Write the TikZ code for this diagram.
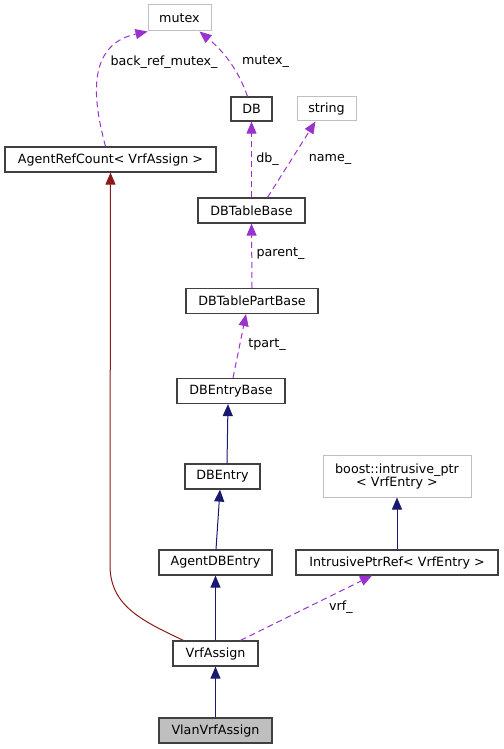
\documentclass[tikz,border=0pt]{standalone}
\usepackage{fontspec}
\setmainfont{DejaVu Sans}
\usetikzlibrary{arrows.meta}
\definecolor{navy}{HTML}{191970}
\definecolor{dred}{HTML}{8B1A1A}
\definecolor{orch}{HTML}{9A32CD}
\definecolor{lgray}{HTML}{BFBFBF}
\definecolor{bord}{HTML}{404040}
\begin{document}
\begin{tikzpicture}[x=1pt,y=-1pt,
  every node/.style={font=\fontsize{12.7}{14}\selectfont, inner sep=0pt, align=center},
  cls/.style={draw=bord, line width=1.2pt, fill=white, rectangle},
  ext/.style={draw=lgray, line width=1pt, fill=white, rectangle},
  cur/.style={draw=bord, line width=1.2pt, fill=lgray, rectangle},
  tip/.style={-{Triangle[length=12pt,width=10pt]}},
  inh/.style={draw=navy, line width=1pt, tip},
  priv/.style={draw=dred, line width=1pt, tip},
  use/.style={draw=orch, line width=1pt, dash pattern=on 6pt off 4pt, tip},
  lbl/.style={fill=none}]
\useasboundingbox (0,0) rectangle (503,749);
% nodes
\node[ext, minimum width=63pt, minimum height=26pt] (mutex) at (179.5,18) {mutex};
\node[cls, minimum width=41pt, minimum height=24pt] (db) at (251.5,109) {DB};
\node[ext, minimum width=59pt, minimum height=24pt] (string) at (326.5,109) {string};
\node[cls, minimum width=211pt, minimum height=25pt] (arc) at (110.5,159.5) {AgentRefCount< VrfAssign >};
\node[cls, minimum width=107pt, minimum height=25pt] (dbtb) at (251.5,210.5) {DBTableBase};
\node[cls, minimum width=132pt, minimum height=25pt] (dbtpb) at (252,301) {DBTablePartBase};
\node[cls, minimum width=108pt, minimum height=25pt] (dbeb) at (231,391) {DBEntryBase};
\node[cls, minimum width=75pt, minimum height=25pt] (dbe) at (222.5,476.5) {DBEntry};
\node[ext, minimum width=148pt, minimum height=42pt] (boost) at (397,476) {boost::intrusive\_ptr\\[-1pt]< VrfEntry >};
\node[cls, minimum width=113pt, minimum height=25pt] (adbe) at (215.5,562.5) {AgentDBEntry};
\node[cls, minimum width=202pt, minimum height=25pt] (ipr) at (397,562.5) {IntrusivePtrRef< VrfEntry >};
\node[cls, minimum width=85pt, minimum height=25pt] (va) at (215.5,653.5) {VrfAssign};
\node[cur, minimum width=113pt, minimum height=25pt] (vva) at (215.5,730.5) {VlanVrfAssign};
% inheritance
\draw[inh] (vva.north) -- (va.south);
\draw[inh] (va.north) -- (adbe.south);
\draw[inh] ([xshift=0.5pt]adbe.north) -- ([xshift=-2.5pt]dbe.south);
\draw[inh] ([xshift=4.5pt]dbe.north) -- ([xshift=-3pt]dbeb.south);
\draw[inh] (ipr.north) -- (boost.south);
\draw[priv] ([xshift=-32pt]va.north) .. controls (140,620) and (110,605) .. (110,565) -- (arc.south);
% usage
\draw[use] ([xshift=25pt]va.north) -- ([xshift=-25pt]ipr.south);
\draw[use] ([xshift=2pt]dbeb.north) -- ([xshift=-6pt]dbtpb.south);
\draw[use] (dbtpb.north) -- (dbtb.north |- dbtb.south);
\draw[use] (dbtb.north) -- (db.south);
\draw[use] ([xshift=16pt]dbtb.north) -- ([xshift=-11pt]string.south);
\draw[use] ([xshift=-4pt]db.north) .. controls (240,75) and (228,55) .. ([xshift=20pt]mutex.south);
\draw[use] ([xshift=-5pt]arc.north) .. controls (93,100) and (86,45) .. ([xshift=-32pt]mutex.south);
% labels
\node[lbl] (l1) at (164,62) {back\_ref\_mutex\_};
\node[lbl] (l2) at (265.5,62) {mutex\_};
\node[lbl] (l3) at (267.5,159) {db\_};
\node[lbl] (l4) at (330,159) {name\_};
\node[lbl] (l5) at (280.5,254) {parent\_};
\node[lbl] (l6) at (267,345) {tpart\_};
\node[lbl] (l7) at (341,607) {vrf\_};
\end{tikzpicture}
\end{document}
